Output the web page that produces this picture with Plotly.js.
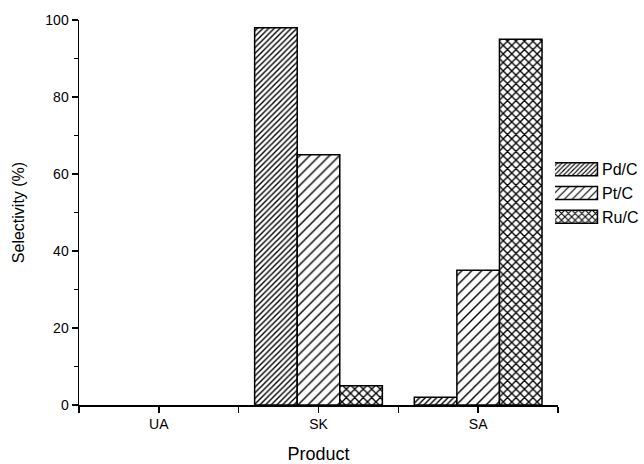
<!DOCTYPE html>
<html><head><meta charset="utf-8">
<script src="https://cdn.plot.ly/plotly-3.0.1.min.js"></script>
<style>html,body{margin:0;padding:0;background:#fff}#c{width:644px;height:464px}</style>
</head><body><div id="c"></div>
<script>
const categories = ["UA", "SK", "SA"];
const seriesNames = ["Pd/C", "Pt/C", "Ru/C"];
const pdValues = [0, 98, 2];
const ptValues = [0, 65, 35];
const ruValues = [0, 5, 95];
const yTicks = [0, 20, 40, 60, 80, 100];

const xIdx = categories.map((c, i) => i);
const patterns = [
  {shape: "/", size: 4, solidity: 0.35, fgcolor: "#000", bgcolor: "#fff", fillmode: "replace"},
  {shape: "/", size: 7, solidity: 0.2, fgcolor: "#000", bgcolor: "#fff", fillmode: "replace"},
  {shape: "x", size: 6, solidity: 0.4, fgcolor: "#000", bgcolor: "#fff", fillmode: "replace"}
];
const vals = [pdValues, ptValues, ruValues];
const traces = seriesNames.map((n, k) => ({
  type: "bar", name: n, x: xIdx, y: vals[k],
  marker: {color: "#fff", pattern: patterns[k],
    line: {color: "#000", width: vals[k].map(v => v > 0 ? 1.5 : 0)}}
}));

const layout = {
  width: 644, height: 464,
  margin: {l: 79, r: 86, t: 20, b: 59, autoexpand: false},
  paper_bgcolor: "#fff", plot_bgcolor: "#fff",
  font: {family: "Liberation Sans, Arial, sans-serif", color: "#000"},
  barmode: "group", bargap: 0.2, bargroupgap: 0,
  showlegend: true,
  legend: {x: 0.9937, xanchor: "left", y: 0.55, yanchor: "middle", font: {size: 16}, tracegroupgap: 0, itemwidth: 37, bgcolor: "rgba(0,0,0,0)"},
  xaxis: {
    range: [-0.5, 2.5], tickvals: xIdx, ticktext: categories,
    showgrid: false, zeroline: false, showline: true, linecolor: "#000", linewidth: 1.5,
    ticks: "outside", ticklen: 6, tickwidth: 1.5, tickcolor: "#000",
    tickfont: {size: 14},
    minor: {tick0: 0.5, dtick: 1, ticks: "outside", ticklen: 6, tickwidth: 1.5, tickcolor: "#000", showgrid: false},
    title: {text: "Product", font: {size: 18}, standoff: 18}
  },
  yaxis: {
    range: [0, 100], tickvals: yTicks,
    showgrid: false, zeroline: false, showline: true, linecolor: "#000", linewidth: 1.5,
    ticks: "outside", ticklen: 6, tickwidth: 1.5, tickcolor: "#000",
    tickfont: {size: 14},
    minor: {dtick: 10, ticks: "outside", ticklen: 4, tickwidth: 1.5, tickcolor: "#000", showgrid: false},
    title: {text: "Selectivity (%)", font: {size: 16}, standoff: 16}
  }
};
Plotly.newPlot("c", traces, layout, {displayModeBar: false, staticPlot: true}).then(gd => {
  // widen the legend swatches to the wide rectangles of the reference
  gd.querySelectorAll(".legend .legendpoints path").forEach(p => {
    p.setAttribute("d", "M19,6.5H-26V-6.5H19Z");
    p.style.strokeWidth = "1.5px";
    p.style.stroke = "#000";
  });
});
</script></body></html>
